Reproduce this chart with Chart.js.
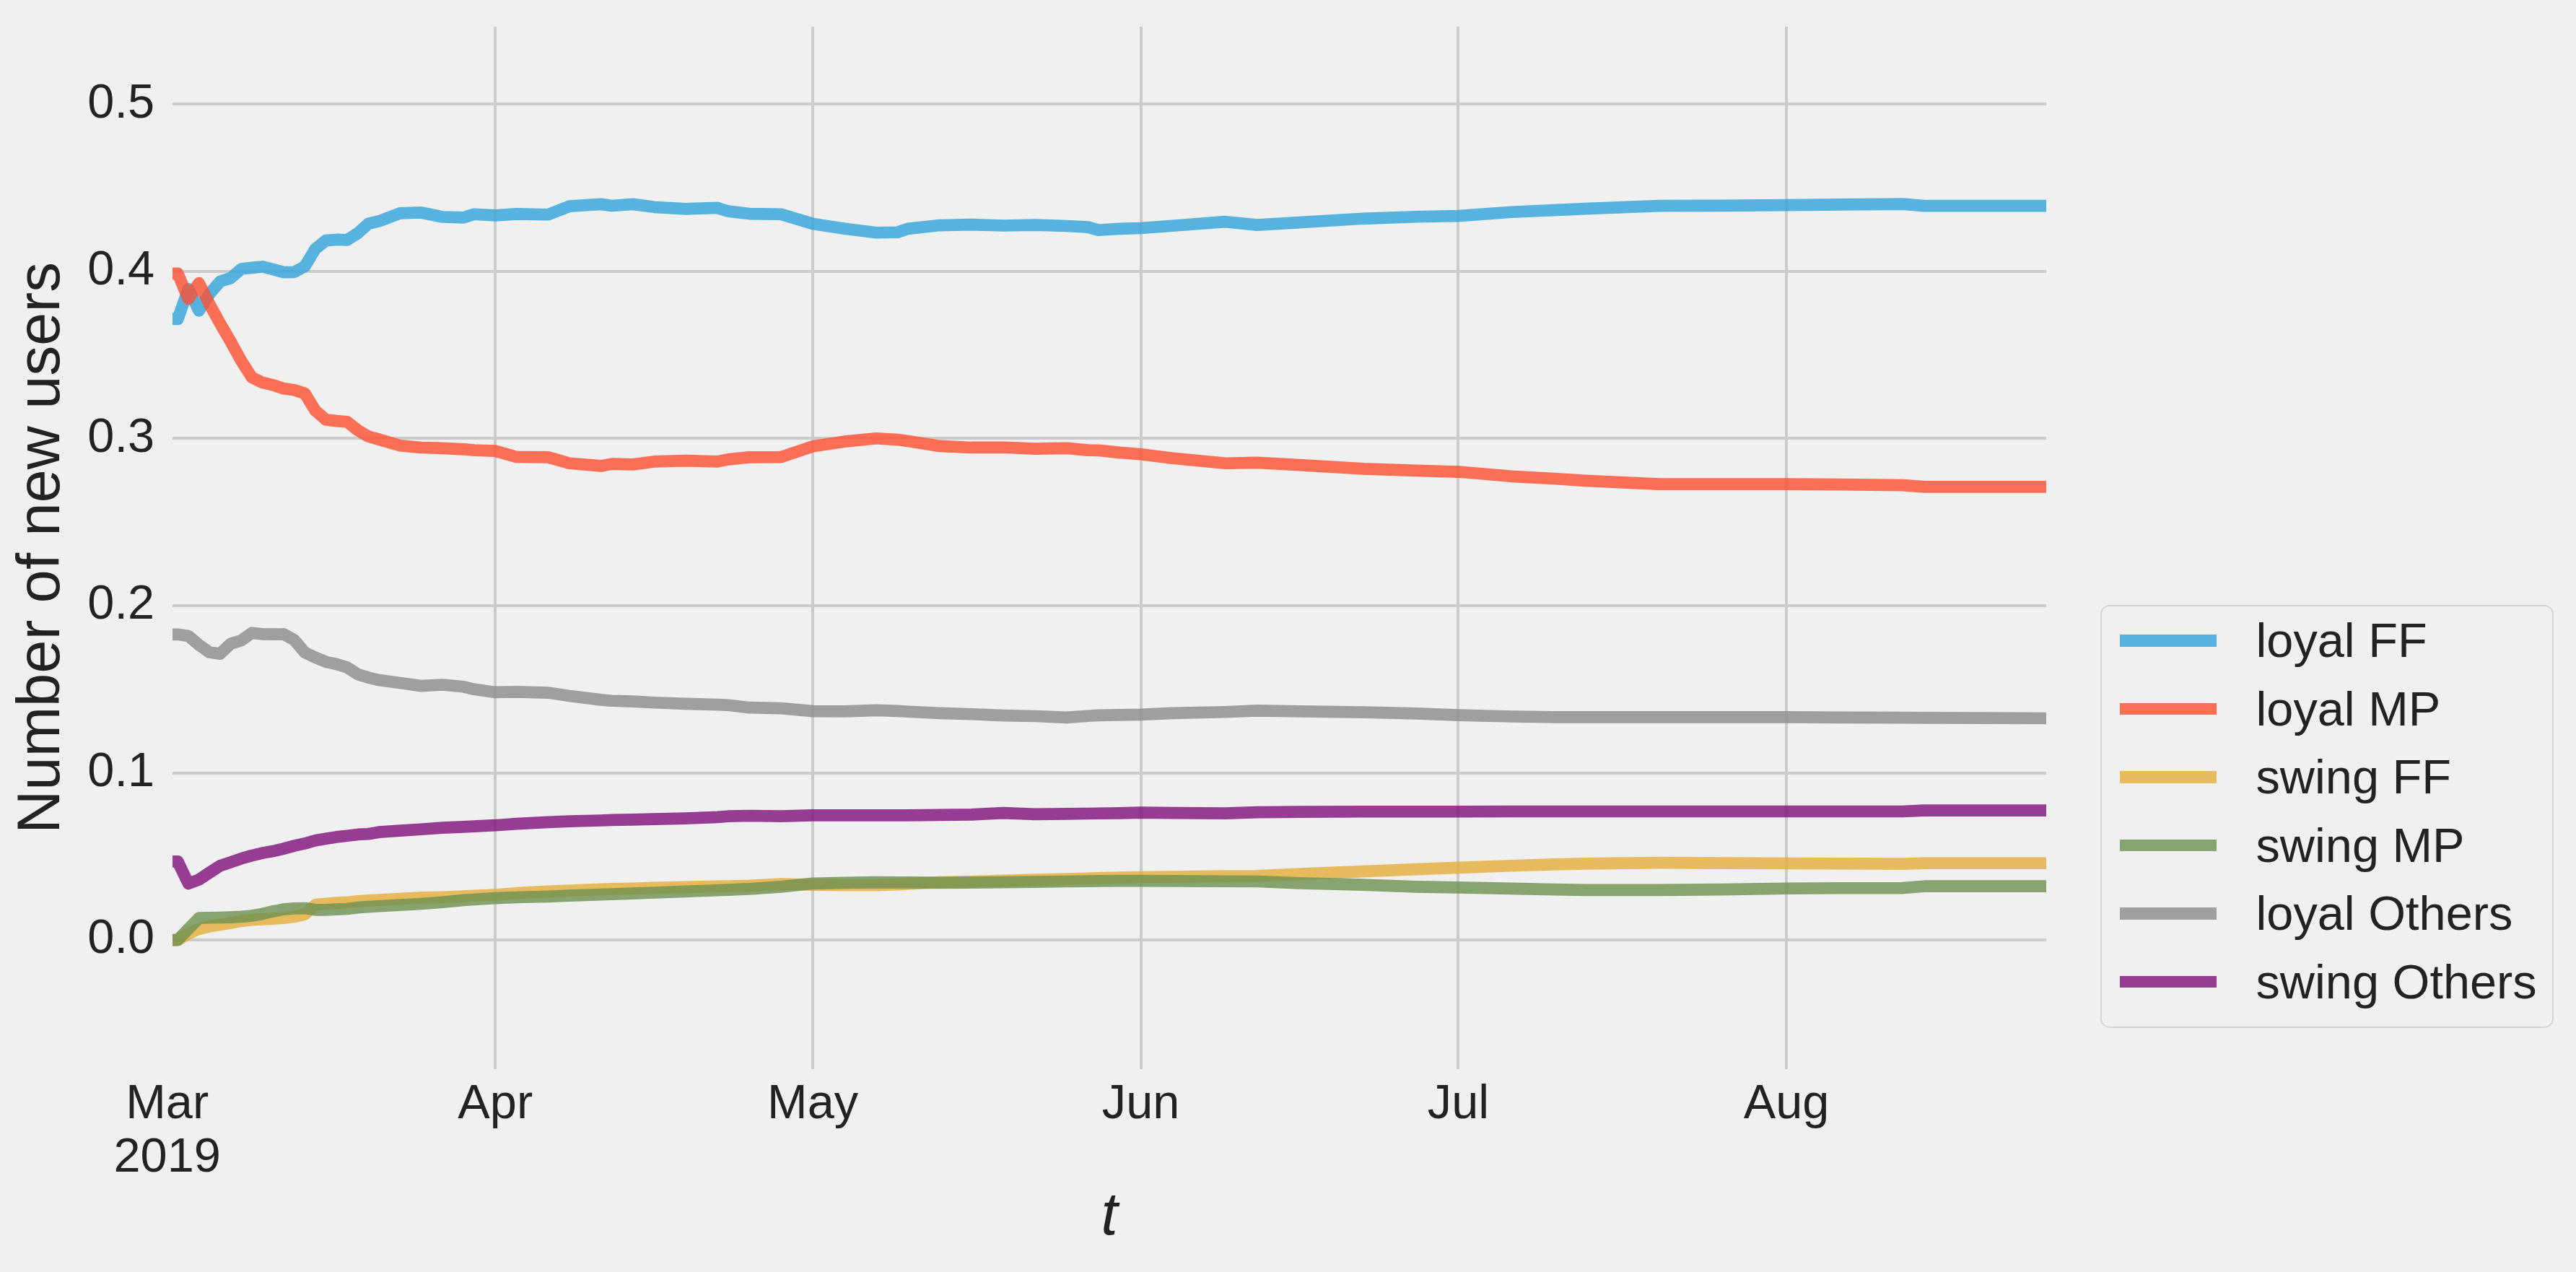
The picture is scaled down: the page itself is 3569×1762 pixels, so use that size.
<!DOCTYPE html>
<html>
<head>
<meta charset="utf-8">
<script src="https://cdn.jsdelivr.net/npm/chart.js@4.4.1/dist/chart.umd.min.js"></script>
<style>
html,body{margin:0;padding:0;background:#f0f0f0;}
#wrap{position:relative;width:3569px;height:1762px;overflow:hidden;}
#c{position:absolute;left:0;top:0;}
#legend{position:absolute;left:2910px;top:838px;width:628px;height:586px;box-sizing:border-box;border:2.5px solid #d3d3d3;border-radius:13px;background:#f0f0f0;font-family:"Liberation Sans",Arial,sans-serif;font-size:66.7px;color:#222;}
#legend .sw{position:absolute;left:24.5px;width:134px;height:16.7px;}
#legend .tx{position:absolute;left:213.5px;height:66.7px;line-height:66.7px;white-space:nowrap;}
</style>
</head>
<body>
<div id="wrap">
<canvas id="c" width="3569" height="1762"></canvas>
<div id="legend"></div>
</div>
<script>
// ---- data ----
const dates = [
"2019-03-01","2019-03-02","2019-03-03","2019-03-04","2019-03-05","2019-03-06","2019-03-07","2019-03-08","2019-03-09","2019-03-10",
"2019-03-11","2019-03-12","2019-03-13","2019-03-14","2019-03-15","2019-03-16","2019-03-17","2019-03-18","2019-03-19","2019-03-20",
"2019-03-21","2019-03-23","2019-03-25","2019-03-27","2019-03-29","2019-03-30","2019-04-01","2019-04-03","2019-04-06","2019-04-08",
"2019-04-11","2019-04-12","2019-04-14","2019-04-16","2019-04-19","2019-04-22","2019-04-23","2019-04-25","2019-04-28","2019-05-01",
"2019-05-04","2019-05-07","2019-05-09","2019-05-10","2019-05-13","2019-05-16","2019-05-19","2019-05-22","2019-05-25","2019-05-27",
"2019-05-28","2019-05-30","2019-06-01","2019-06-04","2019-06-09","2019-06-12","2019-06-16","2019-06-22","2019-06-27","2019-07-01",
"2019-07-06","2019-07-10","2019-07-13","2019-07-20","2019-07-26","2019-08-01","2019-08-06","2019-08-12","2019-08-14","2019-08-20",
"2019-08-26"];

const loyalFF = [
.3715,.3715,.3895,.3765,.3865,.3940,.3960,.4015,.4022,.4028,
.4012,.3995,.3996,.4030,.4135,.4185,.4190,.4188,.4228,.4285,
.4300,.4348,.4352,.4326,.4322,.4342,.4335,.4344,.4340,.4390,
.4402,.4393,.4402,.4385,.4374,.4380,.4360,.4345,.4342,.4285,
.4256,.4232,.4234,.4255,.4276,.4280,.4274,.4278,.4272,.4265,
.4247,.4255,.4259,.4273,.4297,.4278,.4293,.4316,.4327,.4332,
.4355,.4366,.4375,.4392,.4393,.4397,.4400,.4403,.4392,.4392,
.4392];

const loyalMP = [
.3987,.3987,.3836,.3930,.3803,.3688,.3580,.3464,.3366,.3335,
.3320,.3299,.3290,.3270,.3167,.3112,.3105,.3100,.3050,.3013,
.2995,.2958,.2946,.2942,.2936,.2930,.2926,.2890,.2888,.2852,
.2836,.2848,.2845,.2862,.2868,.2862,.2875,.2888,.2889,.2953,
.2982,.3001,.2993,.2985,.2955,.2946,.2947,.2939,.2942,.2930,
.2929,.2916,.2906,.2882,.2852,.2856,.2842,.2819,.2808,.2801,
.2774,.2760,.2748,.2727,.2727,.2727,.2725,.2721,.2711,.2711,
.2711];

const swingFF = [
0,0,.0037,.0066,.0081,.0091,.0102,.0113,.0120,.0124,
.0127,.0131,.0139,.0153,.0210,.0217,.0222,.0225,.0232,.0236,
.0239,.0246,.0253,.0256,.0261,.0264,.0270,.0280,.0290,.0296,
.0303,.0305,.0308,.0312,.0316,.0320,.0322,.0325,.0335,.0330,
.0328,.0328,.0332,.0335,.0345,.0350,.0355,.0360,.0365,.0368,
.0370,.0373,.0376,.0378,.0382,.0383,.0395,.0410,.0423,.0433,
.0444,.0452,.0456,.0462,.0460,.0458,.0457,.0455,.0459,.0459,
.0459];

const swingMP = [
0,0,.0066,.0131,.0133,.0134,.0136,.0139,.0145,.0156,
.0171,.0183,.0189,.0190,.0180,.0180,.0183,.0186,.0194,.0198,
.0202,.0209,.0216,.0226,.0238,.0242,.0250,.0255,.0260,.0265,
.0272,.0274,.0278,.0283,.0290,.0297,.0300,.0305,.0318,.0338,
.0342,.0345,.0344,.0344,.0342,.0343,.0345,.0347,.0350,.0352,
.0353,.0354,.0354,.0353,.0351,.0350,.0340,.0330,.0318,.0314,
.0307,.0302,.0299,.0299,.0302,.0308,.0310,.0311,.0321,.0321,
.0321];

const loyalOthers = [
.1828,.1828,.1819,.1765,.1721,.1712,.1772,.1792,.1837,.1830,
.1829,.1830,.1795,.1720,.1690,.1664,.1650,.1631,.1590,.1570,
.1555,.1538,.1520,.1527,.1515,.1500,.1482,.1484,.1479,.1460,
.1437,.1431,.1427,.1420,.1413,.1408,.1405,.1390,.1386,.1369,
.1368,.1374,.1370,.1366,.1357,.1351,.1343,.1339,.1331,.1340,
.1344,.1346,.1348,.1357,.1364,.1372,.1368,.1362,.1355,.1345,
.1337,.1333,.1333,.1333,.1333,.1333,.1331,.1330,.1329,.1328,
.1326];

const swingOthers = [
.0469,.0469,.0337,.0361,.0403,.0444,.0465,.0487,.0505,.0520,
.0531,.0546,.0563,.0577,.0595,.0606,.0616,.0623,.0631,.0634,
.0645,.0654,.0662,.0671,.0677,.0680,.0686,.0695,.0705,.0710,
.0715,.0718,.0720,.0723,.0727,.0735,.0740,.0743,.0740,.0746,
.0746,.0746,.0746,.0746,.0748,.0750,.0760,.0752,.0754,.0756,
.0757,.0759,.0762,.0760,.0758,.0764,.0766,.0768,.0768,.0768,
.0769,.0769,.0769,.0769,.0769,.0769,.0769,.0769,.0775,.0775,
.0775];

const seriesNames = ["loyal FF","loyal MP","swing FF","swing MP","loyal Others","swing Others"];
const seriesValues = [loyalFF, loyalMP, swingFF, swingMP, loyalOthers, swingOthers];

const xTickDates = ["2019-03-01","2019-04-01","2019-05-01","2019-06-01","2019-07-01","2019-08-01"];
const xTickLabels = [["Mar","2019"],"Apr","May","Jun","Jul","Aug"];
const yTicks = [0,0.1,0.2,0.3,0.4,0.5];
const xMinDate = "2019-03-01T12:00:00Z";
const xMaxDate = "2019-08-25T13:12:00Z";
const yMin = -0.0773, yMax = 0.5464;

// ---- styling ----
const colors = ["rgba(48,162,218,0.8)","rgba(252,79,48,0.8)","rgba(229,174,56,0.8)",
                "rgba(109,144,79,0.8)","rgba(139,139,139,0.8)","rgba(129,15,124,0.8)"];
const FONT = '"Liberation Sans", Arial, sans-serif';
const TEXT = '#222222';
const GRID = '#cbcbcb';

const T0 = Date.parse("2019-03-01T00:00:00Z");
const toDay = s => (Date.parse(s.length > 10 ? s : s + "T00:00:00Z") - T0) / 86400000;
const days = dates.map(toDay);
const xMin = toDay(xMinDate), xMax = toDay(xMaxDate);

const datasets = seriesValues.map((vals, i) => ({
  label: seriesNames[i],
  data: vals.map((v, k) => ({x: days[k], y: v})),
  borderColor: colors[i],
  backgroundColor: colors[i],
  borderWidth: 16.7,
  pointRadius: 0,
  pointHoverRadius: 0,
  tension: 0,
  fill: false,
  borderJoinStyle: 'round',
  borderCapStyle: 'square',
  clip: 0,
  order: seriesValues.length - i
}));

const chart = new Chart(document.getElementById('c'), {
  type: 'line',
  data: {datasets},
  options: {
    responsive: false,
    devicePixelRatio: 1,
    animation: false,
    layout: {padding: {top: 37, right: 734, bottom: 0, left: 0}},
    plugins: {legend: {display: false}, tooltip: {enabled: false}},
    scales: {
      x: {
        type: 'linear',
        min: xMin, max: xMax,
        afterBuildTicks: s => { s.ticks = xTickDates.map(d => ({value: toDay(d)})); },
        afterFit: s => { s.height = 1762 - 1481; s.paddingLeft = 0; s.paddingRight = 0; },
        grid: {
          color: c => (c.tick && c.tick.value < xMin) ? 'rgba(0,0,0,0)' : GRID,
          lineWidth: 4, drawTicks: false
        },
        border: {display: false},
        ticks: {
          autoSkip: false, maxRotation: 0, minRotation: 0, padding: 12.9,
          color: TEXT,
          font: {family: FONT, size: 66.7, lineHeight: 1.11},
          callback: (v, i) => xTickLabels[i]
        },
        title: {
          display: true, text: 't', color: TEXT,
          font: {family: FONT, size: 83.3, style: 'italic', lineHeight: 1},
          padding: {top: 0, bottom: 34}
        }
      },
      y: {
        type: 'linear',
        min: yMin, max: yMax,
        afterBuildTicks: s => { s.ticks = yTicks.map(v => ({value: v})); },
        afterFit: s => { s.width = 239; s.paddingTop = 0; s.paddingBottom = 0; },
        grid: {color: GRID, lineWidth: 4, drawTicks: false},
        border: {display: false},
        ticks: {
          padding: 25, color: TEXT,
          font: {family: FONT, size: 66.7},
          callback: v => Number(v).toFixed(1)
        },
        title: {
          display: true, text: 'Number of new users', color: TEXT,
          font: {family: FONT, size: 83.3, lineHeight: 1},
          padding: {top: 17, bottom: 0}
        }
      }
    }
  }
});

// ---- legend (HTML, built from chart datasets) ----
const leg = document.getElementById('legend');
chart.data.datasets.forEach((ds, i) => {
  const cy = 47.5 + 94.5 * i;
  const sw = document.createElement('div');
  sw.className = 'sw';
  sw.style.top = (cy - 8.35) + 'px';
  sw.style.background = ds.borderColor;
  const tx = document.createElement('div');
  tx.className = 'tx';
  tx.style.top = (cy - 33.35) + 'px';
  tx.textContent = ds.label;
  leg.appendChild(sw);
  leg.appendChild(tx);
});
</script>
</body>
</html>
